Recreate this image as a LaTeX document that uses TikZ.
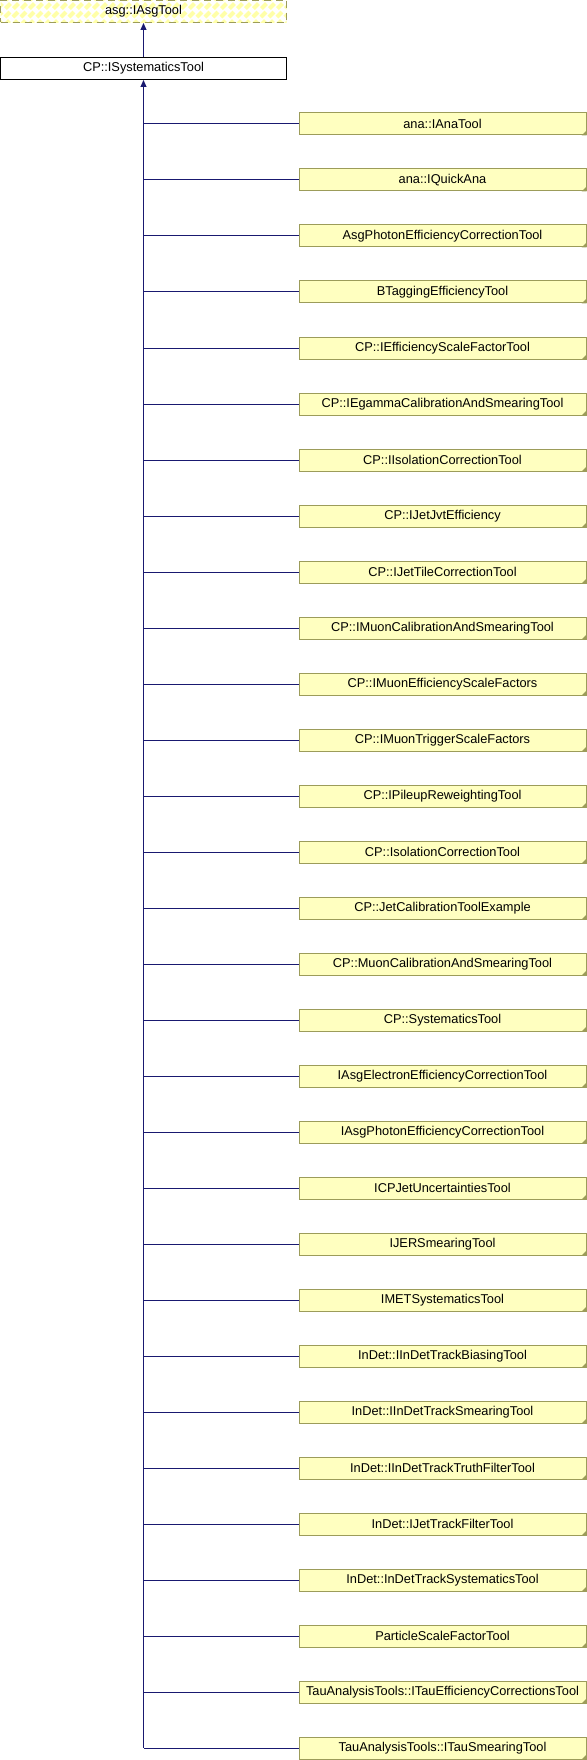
\documentclass[tikz,border=0pt]{standalone}
\usepackage{fontspec}
\setmainfont{Liberation Sans}
\usetikzlibrary{arrows.meta}
\definecolor{boxfill}{HTML}{FFFFC0}
\definecolor{boxline}{HTML}{9C9C5A}
\definecolor{stripe}{HTML}{FFFFA8}
\definecolor{edgecol}{HTML}{191970}
\begin{document}
\begin{tikzpicture}[x=1pt,y=-1pt,
  lbl/.style={font=\fontsize{12.8}{14}\selectfont, text=black, inner sep=0pt},
  parentbox/.style={lbl, draw=black, fill=white, line width=1pt, minimum width=286pt, minimum height=22pt},
  ifacebox/.style={lbl, draw=boxline, dash pattern=on 7pt off 5pt, line width=1pt, fill=white, minimum width=286pt, minimum height=22pt,
    path picture={\foreach \k in {-320,-312,...,320}{\draw[stripe, line width=4pt] ([xshift=\k pt]path picture bounding box.south) ++(-20pt,-20pt) -- ++(60pt,60pt);}}},
  childbox/.style={lbl, draw=boxline, fill=boxfill, line width=1pt, minimum width=287pt, minimum height=22pt},
  foldmark/.style={fill=boxline, draw=none},
  edgeline/.style={draw=edgecol, line width=1pt},
  inh/.style={edgeline, -{Triangle[length=7pt,width=6pt]}}
]
\useasboundingbox (0,0) rectangle (586,1760);
\node[ifacebox] (asg) at (143.5,11.5) {asg::IAsgTool};
\node[parentbox] (cp) at (143.5,68.5) {CP::ISystematicsTool};
\draw[inh] (cp.north) -- (asg.south);
\foreach \name [count=\i from 0] in {
 ana::IAnaTool,
 ana::IQuickAna,
 AsgPhotonEfficiencyCorrectionTool,
 BTaggingEfficiencyTool,
 CP::IEfficiencyScaleFactorTool,
 CP::IEgammaCalibrationAndSmearingTool,
 CP::IIsolationCorrectionTool,
 CP::IJetJvtEfficiency,
 CP::IJetTileCorrectionTool,
 CP::IMuonCalibrationAndSmearingTool,
 CP::IMuonEfficiencyScaleFactors,
 CP::IMuonTriggerScaleFactors,
 CP::IPileupReweightingTool,
 CP::IsolationCorrectionTool,
 CP::JetCalibrationToolExample,
 CP::MuonCalibrationAndSmearingTool,
 CP::SystematicsTool,
 IAsgElectronEfficiencyCorrectionTool,
 IAsgPhotonEfficiencyCorrectionTool,
 ICPJetUncertaintiesTool,
 IJERSmearingTool,
 IMETSystematicsTool,
 InDet::IInDetTrackBiasingTool,
 InDet::IInDetTrackSmearingTool,
 InDet::IInDetTrackTruthFilterTool,
 InDet::IJetTrackFilterTool,
 InDet::InDetTrackSystematicsTool,
 ParticleScaleFactorTool,
 TauAnalysisTools::ITauEfficiencyCorrectionsTool,
 TauAnalysisTools::ITauSmearingTool}{
  \node[childbox] (c\i) at (442.5,124+56*\i) {\name};
  \fill[foldmark] (c\i.south east) -- ++(0,-5) -- ++(-5,5) -- cycle;
  \draw[edgeline] (c\i.west) -- (c\i.west -| cp.south);
}
\coordinate (busend) at (c29.west -| cp.south);
\draw[inh] ([yshift=0.5pt]busend) -- (cp.south);
\end{tikzpicture}
\end{document}
